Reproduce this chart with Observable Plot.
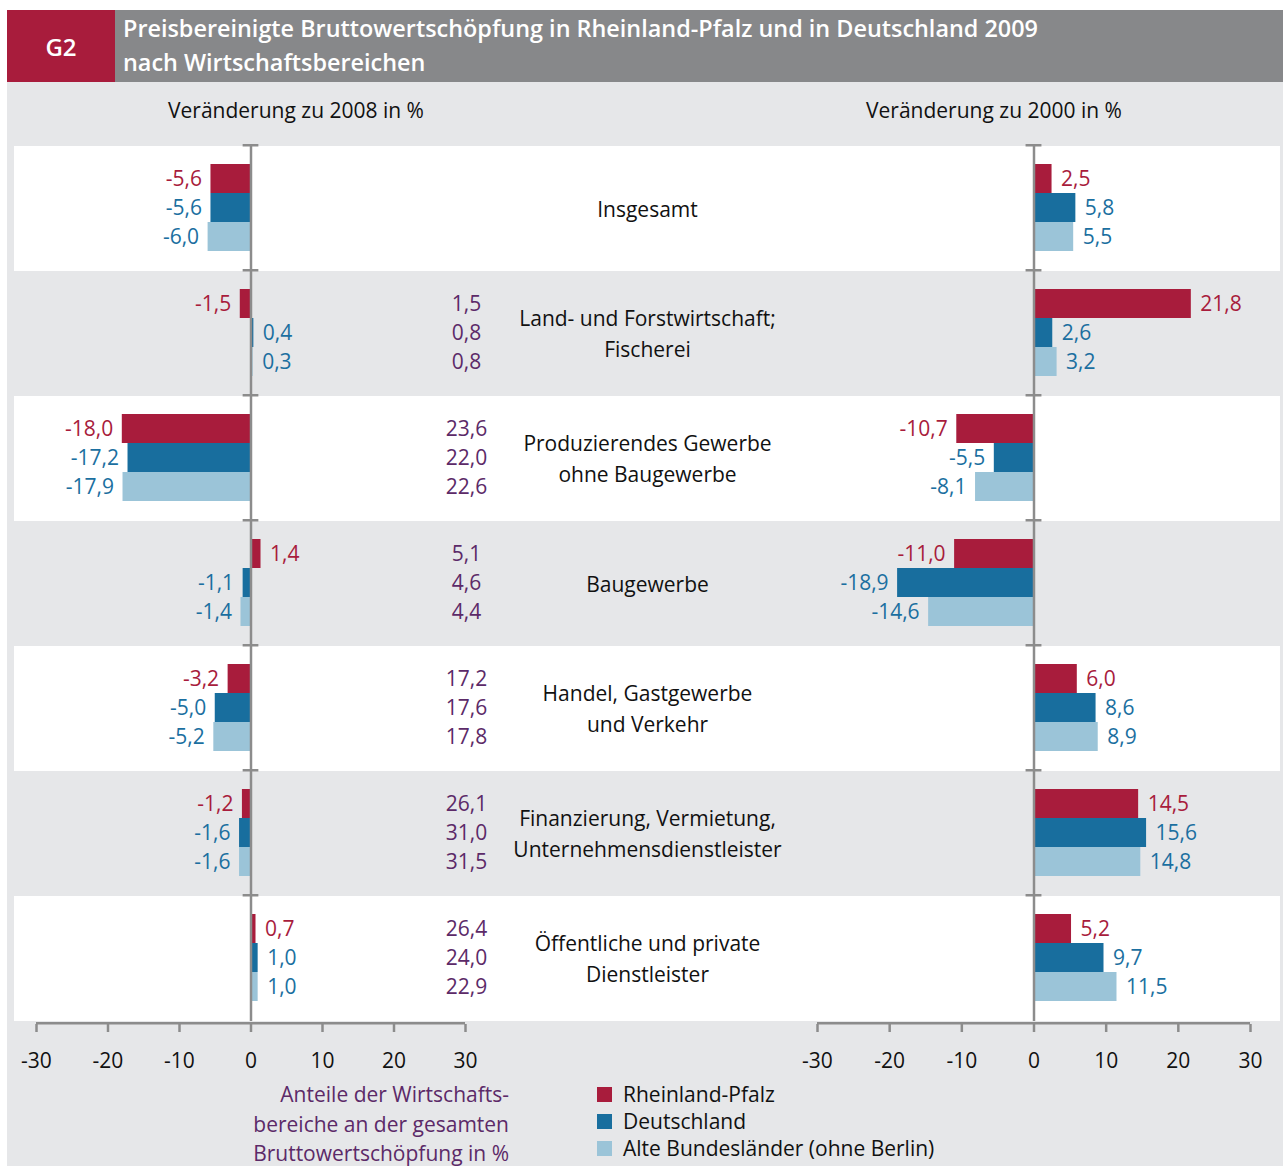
<!DOCTYPE html>
<html lang="de">
<head>
<meta charset="utf-8">
<script src="https://cdn.jsdelivr.net/npm/d3@7"></script>
<script src="https://cdn.jsdelivr.net/npm/@observablehq/plot@0.6"></script>
<style>
  html, body { margin: 0; padding: 0; background: #fff; }
  #wrap { position: relative; width: 1283px; height: 1166px; overflow: hidden; background: #fff; font-family: "Open Sans", "Noto Sans", sans-serif; }
  #bg { position: absolute; left: 7px; top: 82px; width: 1276px; height: 1084px; background: #e6e7e9; }
  #g2 { position: absolute; left: 7px; top: 10px; width: 108px; height: 72px; background: #a81c3c; color: #fff; font-weight: 600; font-size: 24px; display: flex; align-items: center; justify-content: center; }
  #titlebar { position: absolute; left: 115px; top: 10px; width: 1168px; height: 72px; background: #87888a; }
  #title { position: absolute; left: 123px; top: 11px; color: #fff; font-weight: 600; font-size: 23.4px; line-height: 34px; white-space: nowrap; }
  .head { position: absolute; top: 96px; font-size: 21px; color: #111; white-space: nowrap; transform: translateX(-50%); }
  #wrap svg { position: absolute; left: 0; top: 0; }
  #caption { position: absolute; right: calc(1283px - 509px); top: 1080px; text-align: right; color: #5c2a68; font-size: 21px; line-height: 29.5px; white-space: nowrap; }
  #legend { position: absolute; left: 597px; top: 1081px; font-size: 21px; line-height: 27px; color: #111; }
  #legend div { display: flex; align-items: center; white-space: nowrap; }
  #legend span.sw { display: inline-block; width: 15px; height: 15px; margin-right: 11px; }
</style>
</head>
<body>
<div id="wrap">
  <div id="bg"></div>
  <div id="g2">G2</div>
  <div id="titlebar"></div>
  <div id="title">Preisbereinigte Bruttowertschöpfung in Rheinland-Pfalz und in Deutschland 2009<br>nach Wirtschaftsbereichen</div>
  <div class="head" style="left:296px">Veränderung zu 2008 in %</div>
  <div class="head" style="left:994px">Veränderung zu 2000 in %</div>
  <div id="caption">Anteile der Wirtschafts-<br>bereiche an der gesamten<br>Bruttowertschöpfung in %</div>
  <div id="legend"></div>
</div>
<script>
// ---- data ----
const categories = [
  "Insgesamt",
  "Land- und Forstwirtschaft;\nFischerei",
  "Produzierendes Gewerbe\nohne Baugewerbe",
  "Baugewerbe",
  "Handel, Gastgewerbe\nund Verkehr",
  "Finanzierung, Vermietung,\nUnternehmensdienstleister",
  "Öffentliche und private\nDienstleister"
];
const series = ["Rheinland-Pfalz", "Deutschland", "Alte Bundesländer (ohne Berlin)"];
const barColors = ["#a81c3c", "#186e9e", "#9bc4d8"];
const labelColors = ["#a81c3c", "#1b6fa0", "#1b6fa0"];

// Veränderung zu 2008 in % (per category: RP, D, ABL)
const change2008 = [
  [-5.6, -5.6, -6.0],
  [-1.5, 0.4, 0.3],
  [-18.0, -17.2, -17.9],
  [1.4, -1.1, -1.4],
  [-3.2, -5.0, -5.2],
  [-1.2, -1.6, -1.6],
  [0.7, 1.0, 1.0]
];
// Veränderung zu 2000 in %
const change2000 = [
  [2.5, 5.8, 5.5],
  [21.8, 2.6, 3.2],
  [-10.7, -5.5, -8.1],
  [-11.0, -18.9, -14.6],
  [6.0, 8.6, 8.9],
  [14.5, 15.6, 14.8],
  [5.2, 9.7, 11.5]
];
// Anteile an der gesamten Bruttowertschöpfung in % (null = none shown)
const shares = [
  null,
  [1.5, 0.8, 0.8],
  [23.6, 22.0, 22.6],
  [5.1, 4.6, 4.4],
  [17.2, 17.6, 17.8],
  [26.1, 31.0, 31.5],
  [26.4, 24.0, 22.9]
];
const xTicks = [-30, -20, -10, 0, 10, 20, 30];

// ---- helpers ----
const fmt = v => v.toFixed(1).replace(".", ",");
function toRows(matrix) {
  const out = [];
  matrix.forEach((vals, i) => {
    if (!vals) return;
    vals.forEach((v, j) => out.push({cat: categories[i], series: series[j], value: v, label: labelColors[j], color: barColors[j]}));
  });
  return out;
}
const W = 1283, H = 1166, TOP = 146, BOTTOM = 145;
const rowH = (H - TOP - BOTTOM) / categories.length;
const font = "Open Sans, Noto Sans, sans-serif";
const FS = 21;
const wrap = document.getElementById("wrap");

// ---- background stripes + category labels ----
const bgPlot = Plot.plot({
  width: W, height: H,
  marginTop: TOP, marginBottom: BOTTOM, marginLeft: 14, marginRight: 3,
  style: {background: "transparent", fontFamily: font, overflow: "visible"},
  fy: {domain: categories, padding: 0, axis: null},
  marks: [
    Plot.rect(categories.filter((d, i) => i % 2 === 0), {fy: d => d, fill: "white"}),
    Plot.text(categories, {fy: d => d, text: d => d, frameAnchor: "middle", fontSize: FS, lineHeight: 1.48, fill: "#111", dy: -2})
  ]
});
wrap.appendChild(bgPlot);

function panel(matrix, left, right, withShares) {
  const data = toRows(matrix);
  const marks = [
    Plot.barX(data, {fy: "cat", y: "series", x: "value", fill: "color"}),
    Plot.ruleX([0], {stroke: "#8c8c8c", strokeWidth: 2.5}),
    Plot.rect(categories, {fy: d => d, x1: -1.1, x2: 1.1, fill: "#8c8c8c", insetBottom: rowH - 0.5, insetTop: -2}),
    Plot.rect([categories[categories.length - 1]], {fy: d => d, x1: -30, x2: 30, fill: "#8c8c8c", insetTop: rowH + 1, insetBottom: -3.5}),
    Plot.text(data.filter(d => d.value < 0), {fy: "cat", y: "series", x: "value", text: d => fmt(d.value), fill: "label", textAnchor: "end", dx: -9, fontSize: FS}),
    Plot.text(data.filter(d => d.value >= 0), {fy: "cat", y: "series", x: "value", text: d => fmt(d.value), fill: "label", textAnchor: "start", dx: 9, fontSize: FS}),
    Plot.axisX({ticks: xTicks, tickFormat: d => String(d), tickSize: 8, tickPadding: 21, dy: 3, stroke: "#8c8c8c", strokeWidth: 2.5, fill: "#111", fontSize: FS, label: null})
  ];
  if (withShares) {
    marks.push(Plot.text(toRows(shares), {fy: "cat", y: "series", text: d => fmt(d.value), frameAnchor: "right", textAnchor: "middle", dx: 1, fill: "#5c2a68", fontSize: FS}));
  }
  return Plot.plot({
    width: W, height: H,
    marginTop: TOP, marginBottom: BOTTOM, marginLeft: left, marginRight: W - right,
    style: {background: "transparent", fontFamily: font, overflow: "visible"},
    fy: {domain: categories, padding: 0, axis: null},
    y: {domain: series, paddingInner: 0, paddingOuter: 0.6, align: 0.47, axis: null},
    x: {domain: [-30, 30]},
    marks
  });
}
wrap.appendChild(panel(change2008, 36, 465, true));
wrap.appendChild(panel(change2000, 817, 1250, false));

// legend
const leg = document.getElementById("legend");
series.forEach((s, i) => {
  const row = document.createElement("div");
  const sw = document.createElement("span");
  sw.className = "sw"; sw.style.background = barColors[i];
  row.appendChild(sw);
  row.appendChild(document.createTextNode(s));
  leg.appendChild(row);
});
// keep html overlays above svgs
["caption", "legend"].forEach(id => wrap.appendChild(document.getElementById(id)));
</script>
</body>
</html>
